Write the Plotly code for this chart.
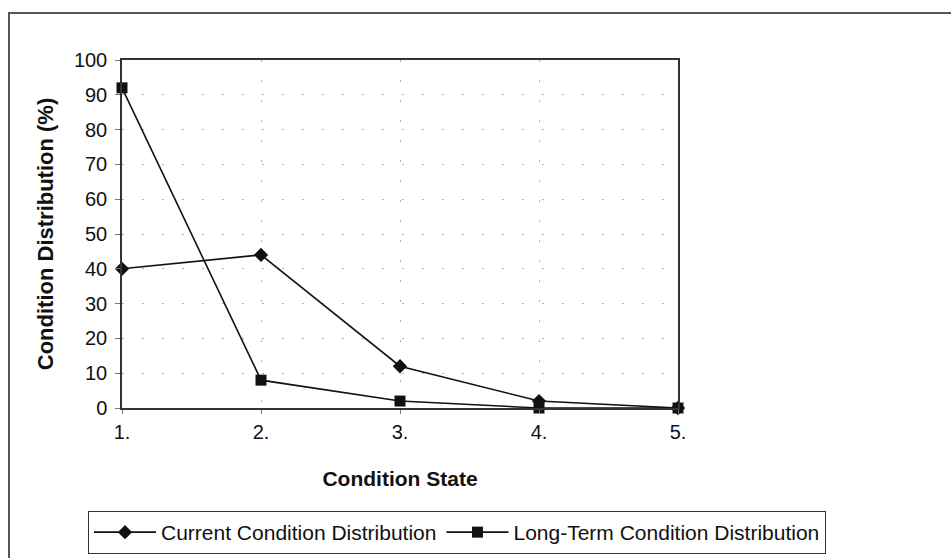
import plotly.graph_objects as go

states = [1, 2, 3, 4, 5]
tick_labels = ["1.", "2.", "3.", "4.", "5."]
current = [40, 44, 12, 2, 0]
long_term = [92, 8, 2, 0, 0]

W, H = 951, 558
L, R, T, B = 122, 678, 60, 408
pw, ph = R - L, B - T

def px_x(p):
    return (p - L) / pw

def px_y(p):
    return (B - p) / ph

fig = go.Figure()
fig.add_trace(go.Scatter(
    x=states, y=current, mode="lines+markers", name="Current Condition Distribution",
    line=dict(color="#111111", width=1.6),
    marker=dict(symbol="diamond", size=11, color="#111111"),
    cliponaxis=False))
fig.add_trace(go.Scatter(
    x=states, y=long_term, mode="lines+markers", name="Long-Term Condition Distribution",
    line=dict(color="#111111", width=1.6),
    marker=dict(symbol="square", size=11, color="#111111"),
    cliponaxis=False))

fig.update_layout(
    width=W, height=H,
    margin=dict(l=L, r=W - R, t=T, b=H - B, autoexpand=False),
    paper_bgcolor="white", plot_bgcolor="white",
    font=dict(family="Liberation Sans, Arial, sans-serif", color="#111111", size=20),
    showlegend=True,
    legend=dict(orientation="h", x=px_x(826), y=px_y(511), xanchor="right", yanchor="top",
                bordercolor="#333333", borderwidth=1, font=dict(size=21),
                itemwidth=62, tracegroupgap=0),
    xaxis=dict(range=[1, 5], tickmode="array", tickvals=states, ticktext=tick_labels,
               showgrid=True, gridcolor="#b0b0b0", griddash="2px,18px", gridwidth=1,
               showline=True, linecolor="#333333", linewidth=1.5, mirror=True,
               ticks="outside", ticklen=4, tickcolor="#777777",
               ticklabelstandoff=1, automargin=False,
               zeroline=False, tickfont=dict(size=20),
               title=dict(text="<b>Condition State</b>", font=dict(size=21), standoff=30)),
    yaxis=dict(range=[0, 100], dtick=10,
               showgrid=True, gridcolor="#b0b0b0", griddash="2px,18px", gridwidth=1,
               showline=True, linecolor="#333333", linewidth=1.5, mirror=True,
               ticks="outside", ticklen=5, tickcolor="#777777",
               ticklabelstandoff=4, automargin=False,
               zeroline=False, tickfont=dict(size=20),
               title=dict(text="<b>Condition Distribution (%)</b>",
                          font=dict(size=22, family="Liberation Sans Narrow, Arial Narrow, Liberation Sans"),
                          standoff=14)),
    shapes=[dict(type="rect", xref="paper", yref="paper",
                 x0=px_x(9), y0=px_y(565), x1=px_x(970), y1=px_y(13),
                 line=dict(color="#555555", width=2), layer="below")],
)

fig.write_html("out.html")
